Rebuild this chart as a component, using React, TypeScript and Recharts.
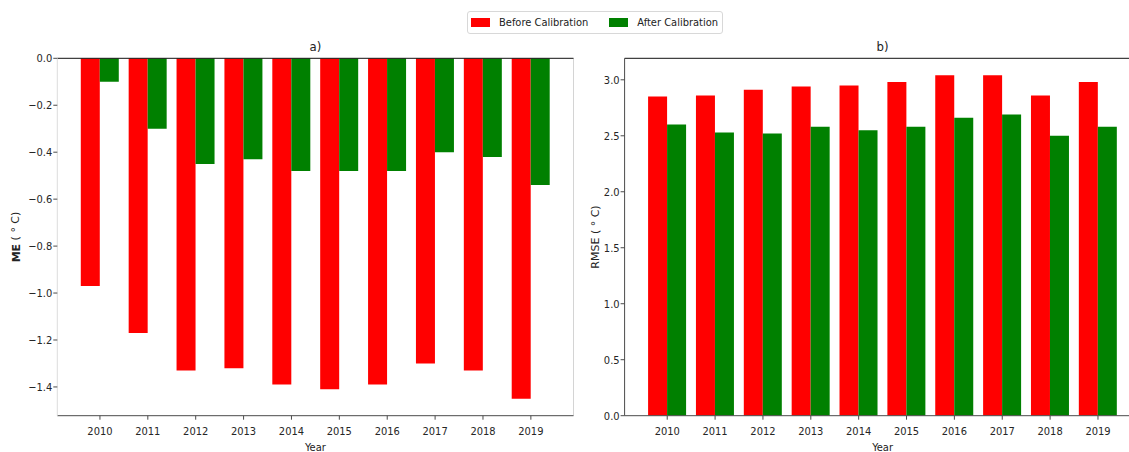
import React from 'react';
import { BarChart, Bar, XAxis, YAxis, Legend, ReferenceLine, CartesianGrid } from 'recharts';

const years = ['2010', '2011', '2012', '2013', '2014', '2015', '2016', '2017', '2018', '2019'];
const seriesNames = ['Before Calibration', 'After Calibration'];

// mean error (deg C) per year
const meBefore = [-0.97, -1.17, -1.33, -1.32, -1.39, -1.41, -1.39, -1.3, -1.33, -1.45];
const meAfter = [-0.1, -0.3, -0.45, -0.43, -0.48, -0.48, -0.48, -0.4, -0.42, -0.54];

// root mean square error (deg C) per year
const rmseBefore = [2.85, 2.86, 2.91, 2.94, 2.95, 2.98, 3.04, 3.04, 2.86, 2.98];
const rmseAfter = [2.6, 2.53, 2.52, 2.58, 2.55, 2.58, 2.66, 2.69, 2.5, 2.58];

const meTicks = [0, -0.2, -0.4, -0.6, -0.8, -1.0, -1.2, -1.4];
const rmseTicks = [0, 0.5, 1.0, 1.5, 2.0, 2.5, 3.0];

const RED = '#ff0000';
const GREEN = '#008000';
const FONT = '"DejaVu Sans Condensed", "DejaVu Sans", sans-serif';
const LABEL_FONT = '"DejaVu Sans", sans-serif';

const tickStyle = { fontSize: 11, fontFamily: FONT, fill: '#262626' };

const meData = years.map((year, i) => ({ year, before: meBefore[i], after: meAfter[i] }));
const rmseData = years.map((year, i) => ({ year, before: rmseBefore[i], after: rmseAfter[i] }));

// 5% headroom past the extreme bar, like matplotlib's default margins
const meDomain: [number, number] = [Math.min(...meBefore, ...meAfter) * 1.05, 0];
const rmseDomain: [number, number] = [0, Math.max(...rmseBefore, ...rmseAfter) * 1.05];

const fmt = (v: number) => v.toFixed(1).replace('-', '\u2212');

// band padding so the first/last bars sit 0.39 of a slot away from the frame
const X_PAD = 18.7;

// frame edges taken from the plot offset
const rightEdge = ({ offset }: any) => [offset.left + offset.width];

function yTitle(content: React.ReactNode, dx: number) {
  return ({ viewBox }: any) => {
    const cx = viewBox.x + dx;
    const cy = viewBox.y + viewBox.height / 2;
    return (
      <text
        x={cx}
        y={cy}
        transform={`rotate(-90 ${cx} ${cy})`}
        textAnchor="middle"
        dominantBaseline="central"
        fontSize={11}
        fontFamily={LABEL_FONT}
        fill="#222"
      >
        {content}
      </text>
    );
  };
}

function LegendBox({ payload }: any) {
  const items = [...(payload || [])].sort(
    (a: any, b: any) => seriesNames.indexOf(a.value) - seriesNames.indexOf(b.value),
  );
  return (
    <div
      style={{
        display: 'flex',
        alignItems: 'center',
        height: 21,
        padding: '0 4px 0 3px',
        border: '1px solid #d8d8d8',
        borderRadius: 3,
        background: '#fff',
        fontFamily: FONT,
        fontSize: 11,
        color: '#222',
        whiteSpace: 'nowrap',
      }}
    >
      {items.map((entry: any, i: number) => (
        <div key={entry.value} style={{ display: 'flex', alignItems: 'center', marginLeft: i === 0 ? 0 : 21 }}>
          <span style={{ display: 'inline-block', width: 19, height: 9, background: entry.color, marginRight: 9 }} />
          <span>{entry.value}</span>
        </div>
      ))}
    </div>
  );
}

const titleLabel = (value: string) => ({
  value,
  position: 'top' as const,
  offset: 7.6,
  fontSize: 13,
  fontFamily: FONT,
  fill: '#222',
});

const yearLabel = {
  value: 'Year',
  position: 'insideBottom' as const,
  offset: 1.5,
  fontSize: 11,
  fontFamily: FONT,
  fill: '#222',
};

export default function App() {
  return (
    <div
      style={{
        position: 'absolute',
        left: 0,
        top: 0,
        width: 1129,
        height: 452,
        overflow: 'hidden',
        background: '#fff',
      }}
    >
      <div style={{ position: 'absolute', left: 0, top: 0 }}>
        <BarChart
          width={600}
          height={452}
          data={meData}
          margin={{ top: 58.3, right: 26.5, bottom: 0, left: 7.3 }}
          barGap={0}
          barCategoryGap="10%"
        >
          <CartesianGrid horizontal={false} verticalCoordinatesGenerator={rightEdge} stroke="#d4d4d4" />
          <XAxis
            dataKey="year"
            padding={{ left: X_PAD, right: X_PAD }}
            height={36.3}
            tick={tickStyle}
            tickSize={4}
            tickMargin={7}
            axisLine={{ stroke: '#4a4a4a' }}
            tickLine={{ stroke: '#4a4a4a' }}
            label={yearLabel}
          />
          <YAxis
            width={50}
            domain={meDomain}
            ticks={meTicks}
            allowDataOverflow
            tickFormatter={fmt}
            tick={tickStyle}
            tickSize={4}
            tickMargin={1}
            axisLine={{ stroke: '#dcdcdc' }}
            tickLine={{ stroke: '#4a4a4a' }}
            label={{
              content: yTitle(
                <>
                  <tspan fontWeight="bold">ME</tspan> ( ° C)
                </>,
                8.2,
              ),
            }}
          />
          <Legend
            layout="horizontal"
            verticalAlign="middle"
            align="center"
            wrapperStyle={{ top: 10.5, left: 467, width: 'auto', height: 'auto' }}
            content={<LegendBox />}
          />
          <Bar dataKey="before" name={seriesNames[0]} fill={RED} isAnimationActive={false} />
          <Bar dataKey="after" name={seriesNames[1]} fill={GREEN} isAnimationActive={false} />
          <ReferenceLine y={0} stroke="#111" label={titleLabel('a)')} />
        </BarChart>
      </div>

      <div style={{ position: 'absolute', left: 580, top: 0 }}>
        <BarChart
          width={580}
          height={452}
          data={rmseData}
          margin={{ top: 58.3, right: 19.4, bottom: 0, left: 4.6 }}
          barGap={0}
          barCategoryGap="10%"
        >
          <XAxis
            dataKey="year"
            padding={{ left: X_PAD, right: X_PAD }}
            height={36.3}
            tick={tickStyle}
            tickSize={4}
            tickMargin={7}
            axisLine={{ stroke: '#4a4a4a' }}
            tickLine={{ stroke: '#4a4a4a' }}
            label={yearLabel}
          />
          <YAxis
            width={40}
            domain={rmseDomain}
            ticks={rmseTicks}
            allowDataOverflow
            tickFormatter={fmt}
            tick={tickStyle}
            tickSize={4}
            tickMargin={1}
            axisLine={{ stroke: '#4a4a4a' }}
            tickLine={{ stroke: '#4a4a4a' }}
            label={{ content: yTitle('RMSE ( ° C)', 10.4) }}
          />
          <Bar dataKey="before" name={seriesNames[0]} fill={RED} isAnimationActive={false} />
          <Bar dataKey="after" name={seriesNames[1]} fill={GREEN} isAnimationActive={false} />
          <ReferenceLine y={rmseDomain[1]} stroke="#111" label={titleLabel('b)')} />
        </BarChart>
      </div>
    </div>
  );
}
